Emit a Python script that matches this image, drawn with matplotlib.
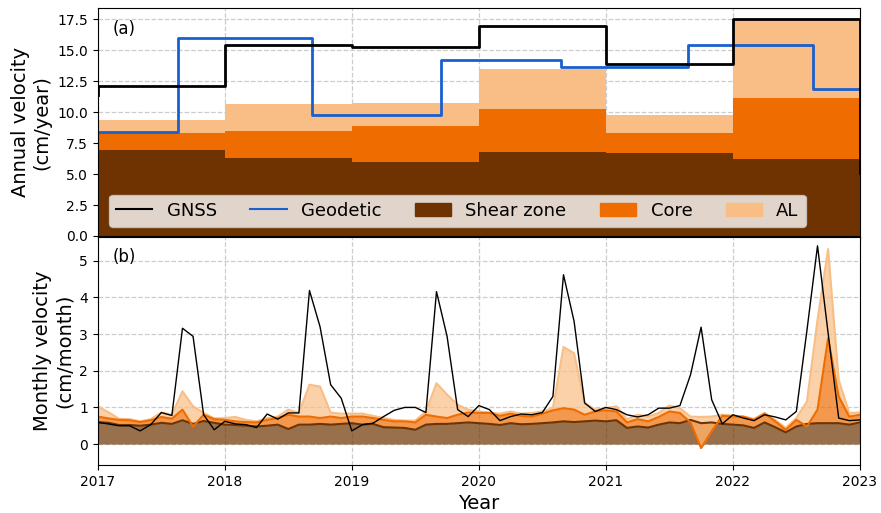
import numpy as np
import matplotlib
matplotlib.use("Agg")
from matplotlib import pyplot as plt
from matplotlib.patches import Patch
from matplotlib.lines import Line2D

# annual velocities (cm/year)
years = [2017, 2018, 2019, 2020, 2021, 2022, 2023]
gnss_x = [2017, 2017, 2018, 2019, 2020, 2021, 2022, 2023, 2023]
gnss_y = [11.4, 12.1, 15.4, 15.3, 17.0, 13.9, 17.5, 17.5, 5.05]
geod_x = [2017, 2017.63, 2018.69, 2019.70, 2020.65, 2021.65, 2022.63, 2023]
geod_y = [8.4, 16.0, 9.75, 14.25, 13.65, 15.45, 11.9, 11.9]
shear_a = [6.94, 6.3, 6.0, 6.8, 6.67, 6.2, 6.2]
core_a = [8.33, 8.47, 8.9, 10.24, 8.33, 11.15, 11.15]
al_a = [9.4, 10.65, 10.75, 13.5, 9.76, 17.45, 17.45]

# monthly velocities (cm/month), 2017-01 .. 2023-01
gnss_m = [0.59, 0.55, 0.5, 0.5, 0.36, 0.53, 0.86, 0.78, 3.16, 2.94, 0.8, 0.39,
          0.62, 0.55, 0.53, 0.45, 0.82, 0.68, 0.85, 0.85, 4.19, 3.2, 1.62, 1.25,
          0.36, 0.53, 0.57, 0.75, 0.92, 1.0, 1.0, 0.86, 4.16, 2.94, 0.94, 0.75,
          1.05, 0.94, 0.64, 0.75, 0.82, 0.8, 0.86, 1.3, 4.62, 3.35, 1.12, 0.89,
          1.0, 0.94, 0.8, 0.74, 0.8, 0.98, 0.98, 1.05, 1.89, 3.19, 1.21, 0.55,
          0.8, 0.71, 0.64, 0.8, 0.74, 0.66, 0.89, 3.1, 5.41, 3.03, 0.71, 0.64,
          0.66]
shear_m = [0.6, 0.58, 0.52, 0.52, 0.5, 0.53, 0.58, 0.55, 0.65, 0.55, 0.63, 0.58,
           0.53, 0.52, 0.5, 0.48, 0.5, 0.53, 0.41, 0.53, 0.53, 0.55, 0.53, 0.55,
           0.57, 0.53, 0.55, 0.46, 0.45, 0.44, 0.39, 0.53, 0.55, 0.55, 0.57, 0.59,
           0.57, 0.55, 0.52, 0.57, 0.54, 0.55, 0.57, 0.59, 0.62, 0.6, 0.62, 0.64,
           0.62, 0.65, 0.44, 0.48, 0.45, 0.53, 0.59, 0.57, 0.66, 0.57, 0.59, 0.55,
           0.53, 0.51, 0.44, 0.59, 0.46, 0.32, 0.48, 0.55, 0.57, 0.57, 0.57, 0.53,
           0.59]
core_m = [0.75, 0.7, 0.66, 0.65, 0.6, 0.65, 0.74, 0.69, 0.94, 0.48, 0.8, 0.68,
          0.66, 0.62, 0.6, 0.59, 0.66, 0.71, 0.8, 0.75, 0.75, 0.71, 0.75, 0.71,
          0.75, 0.75, 0.71, 0.66, 0.62, 0.62, 0.59, 0.8, 0.75, 0.71, 0.8, 0.86,
          0.85, 0.85, 0.77, 0.83, 0.77, 0.75, 0.83, 0.92, 0.98, 0.94, 0.8, 0.89,
          0.92, 0.89, 0.59, 0.68, 0.62, 0.74, 0.89, 0.85, 0.59, -0.11, 0.35, 0.77,
          0.75, 0.75, 0.66, 0.83, 0.62, 0.39, 0.66, 0.48, 0.94, 2.89, 1.3, 0.75,
          0.8]
al_m = [1.03, 0.87, 0.69, 0.68, 0.62, 0.68, 0.86, 0.8, 1.44, 1.03, 0.85, 0.7,
        0.71, 0.74, 0.66, 0.62, 0.71, 0.75, 0.94, 0.85, 1.62, 1.57, 0.86, 0.83,
        0.83, 0.83, 0.77, 0.71, 0.66, 0.64, 0.64, 0.89, 1.66, 1.35, 1.07, 0.94,
        0.89, 0.86, 0.83, 0.89, 0.83, 0.85, 0.89, 0.98, 2.65, 2.48, 1.12, 0.94,
        0.98, 1.03, 0.68, 0.8, 0.75, 0.85, 1.05, 0.98, 0.75, 0.74, 0.75, 0.8,
        0.78, 0.75, 0.69, 0.85, 0.66, 0.44, 0.71, 1.16, 3.39, 5.32, 1.75, 0.85,
        0.86]
t = 2017 + np.arange(len(gnss_m)) / 12.0

c_shear = '#6e3300'
c_core = '#ef6c00'
c_al = '#f9be85'
c_geod = '#1a5fd0'

fig = plt.figure(figsize=(8.81, 5.13), dpi=100)
ax1 = fig.add_axes([0.111, 0.540, 0.865, 0.444])
ax2 = fig.add_axes([0.111, 0.094, 0.865, 0.444], sharex=ax1)

# (a) annual
ax1.set_axisbelow(True)
ax1.fill_between(years, 0, al_a, step='post', color=c_al, lw=0)
ax1.fill_between(years, 0, core_a, step='post', color=c_core, lw=0)
ax1.fill_between(years, 0, shear_a, step='post', color=c_shear, lw=0)
ax1.step(geod_x, geod_y, where='post', color=c_geod, lw=2)
ax1.step(gnss_x, gnss_y, where='post', color='black', lw=2)
ax1.set_ylim(0, 18.4)
ax1.set_yticks(np.arange(0, 17.6, 2.5))
ax1.set_ylabel("Annual velocity\n(cm/year)", fontsize=14)
ax1.grid(True, ls='--', color='#cccccc', lw=0.9)
ax1.tick_params(labelbottom=False, labelsize=10)
ax1.text(0.02, 0.95, "(a)", transform=ax1.transAxes, fontsize=12, va='top')

handles = [Line2D([], [], color='black', lw=1.5),
           Line2D([], [], color=c_geod, lw=1.5),
           Patch(color=c_shear), Patch(color=c_core), Patch(color=c_al)]
labels = ["GNSS", "Geodetic", "Shear zone", "Core", "AL"]
ax1.legend(handles, labels, ncol=5, fontsize=13, loc='lower left',
           bbox_to_anchor=(0.003, 0.0), columnspacing=1.85)

# (b) monthly
ax2.set_axisbelow(True)
ax2.fill_between(t, 0, shear_m, color=c_shear, alpha=0.7, lw=0)
ax2.fill_between(t, shear_m, core_m, color=c_core, alpha=0.7, lw=0)
ax2.fill_between(t, core_m, al_m, color=c_al, alpha=0.7, lw=0)
ax2.plot(t, al_m, color=c_al, lw=1.5)
ax2.plot(t, shear_m, color=c_shear, lw=1.5)
ax2.plot(t, core_m, color=c_core, lw=1.5)
ax2.plot(t, gnss_m, color='black', lw=1)
ax2.set_ylim(-0.565, 5.65)
ax2.set_xlim(2017, 2023)
ax2.set_xticks(years)
ax2.set_ylabel("Monthly velocity\n(cm/month)", fontsize=14)
ax2.set_xlabel("Year", fontsize=14)
ax2.grid(True, ls='--', color='#cccccc', lw=0.9)
ax2.tick_params(labelsize=10)
ax2.text(0.02, 0.95, "(b)", transform=ax2.transAxes, fontsize=12, va='top')

fig.savefig("out.png", dpi=100)
